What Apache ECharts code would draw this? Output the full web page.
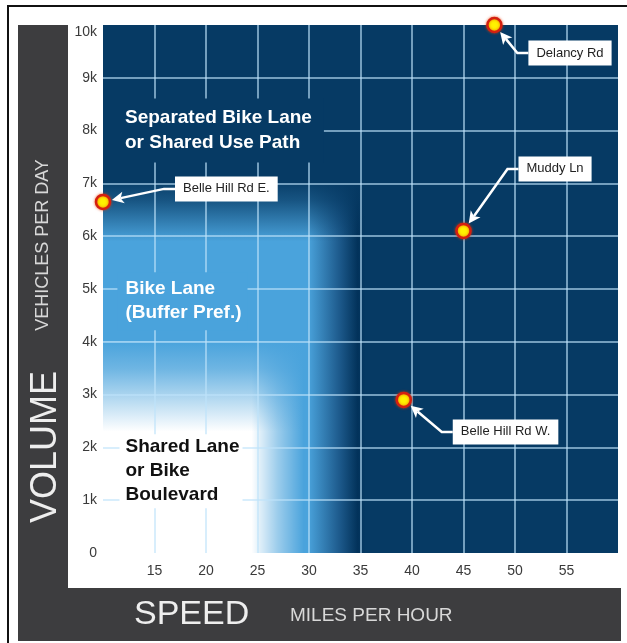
<!DOCTYPE html>
<html>
<head>
<meta charset="utf-8">
<title>Bikeway selection by speed and volume</title>
<script src="https://cdn.jsdelivr.net/npm/echarts@6/dist/echarts.min.js"></script>
<style>
  html, body { margin: 0; padding: 0; background: #fff; }
  #chart { width: 627px; height: 643px; }
</style>
</head>
<body>
<div id="chart"></div>
<script>
// roads that were measured (speed in mph, vehicles per day)
var roadNames = ["Delancy Rd", "Muddy Ln", "Belle Hill Rd E.", "Belle Hill Rd W."];
var roadSpeeds = [48, 45, 10, 39.2];
var roadVolumes = [10000, 6100, 6650, 2900];

// facility zones, label text and where the label sits
var zoneLabels = ["Separated Bike Lane\nor Shared Use Path", "Bike Lane\n(Buffer Pref.)", "Shared Lane\nor Bike\nBoulevard"];
var zoneLabelSpeeds = [10, 11.4, 11.6];
var zoneLabelVolumes = [8000, 4770, 1550];

// tick labels
var speedTickLabels = ["10", "15", "20", "25", "30", "35", "40", "45", "50", "55", "60"];
var volumeTickLabels = ["0", "1k", "2k", "3k", "4k", "5k", "6k", "7k", "8k", "9k", "10k"];

var FONT = '"Liberation Sans", Arial, Helvetica, sans-serif';
var NAVY = "#063a64";
var BLUE = "#4aa3dc";

// box left-middle offset from the point, in px
var calloutOffset = [[34, 28], [55, -62], [72, -13], [49, 32]];

var zoneStyles = [
  { color: "#ffffff", bg: NAVY, lineHeight: 25, padding: [7, 12, 7, 22] },
  { color: "#ffffff", bg: BLUE, lineHeight: 24, padding: [5, 6, 5, 8] },
  { color: "#111111", bg: "#ffffff", lineHeight: 24, padding: [1, 3, 1, 6] }
];

function grad(vertical, stops) {
  return {
    type: "linear", x: 0, y: 0, x2: vertical ? 0 : 1, y2: vertical ? 1 : 0,
    colorStops: stops.map(function (s) { return { offset: s[0], color: s[1] }; })
  };
}

var myChart = echarts.init(document.getElementById("chart"), null, { renderer: "canvas" });

function renderCallout(params, api) {
  var i = params.dataIndex;
  var p = api.coord([api.value(0), api.value(1)]);
  var off = calloutOffset[i];
  var bx = p[0] + off[0], by = p[1] + off[1];
  var ex = bx - 11, ey = by;
  var dx = p[0] - ex, dy = p[1] - ey;
  var len = Math.sqrt(dx * dx + dy * dy);
  var ux = dx / len, uy = dy / len;
  var tipX = p[0] - ux * 9, tipY = p[1] - uy * 9;
  var headLen = 12, headW = 6;
  var baseX = tipX - ux * headLen, baseY = tipY - uy * headLen;
  var nx = -uy, ny = ux;
  return {
    type: "group",
    children: [
      {
        type: "polyline",
        shape: { points: [[bx, by], [ex, ey], [baseX + ux * 3, baseY + uy * 3]] },
        style: { stroke: "#ffffff", lineWidth: 2.5, fill: "none" }
      },
      {
        type: "polygon",
        shape: { points: [[tipX, tipY], [baseX + nx * headW, baseY + ny * headW], [baseX + ux * 3, baseY + uy * 3], [baseX - nx * headW, baseY - ny * headW]] },
        style: { fill: "#ffffff" }
      },
      {
        type: "text",
        x: bx, y: by,
        style: {
          text: roadNames[i], fill: "#222222", font: "13px " + FONT,
          align: "left", verticalAlign: "middle", lineHeight: 15,
          backgroundColor: "#ffffff", padding: [5, 8, 5, 8]
        }
      }
    ]
  };
}

var option = {
  animation: false,
  grid: {
    left: 103, right: 9, top: 25, bottom: 90,
    show: true, backgroundColor: NAVY, borderWidth: 0,
    outerBoundsMode: "none"
  },
  xAxis: {
    type: "value", min: 10, max: 60, interval: 5, z: 2,
    axisLine: { show: false }, axisTick: { show: false },
    axisLabel: {
      showMinLabel: false, showMaxLabel: false, margin: 11,
      color: "#3a3a3a", fontSize: 14, fontFamily: FONT,
      formatter: function (v) { return speedTickLabels[Math.round((v - 10) / 5)]; }
    },
    splitLine: {
      show: true, showMinLine: false, showMaxLine: false,
      lineStyle: { color: "rgba(190,228,250,0.8)", width: 1.5 }
    }
  },
  yAxis: {
    type: "value", min: 0, max: 10000, interval: 1000, z: 2,
    axisLine: { show: false }, axisTick: { show: false },
    axisLabel: {
      margin: 6, color: "#3a3a3a", fontSize: 14, fontFamily: FONT,
      verticalAlignMaxLabel: "top",
      formatter: function (v) { return volumeTickLabels[Math.round(v / 1000)]; }
    },
    splitLine: {
      show: true, showMinLine: false, showMaxLine: false,
      lineStyle: { color: "rgba(190,228,250,0.8)", width: 1.5 }
    }
  },
  graphic: [
    { type: "rect", z: 0, shape: { x: 7, y: 5, width: 620, height: 2 }, style: { fill: "#111" } },
    { type: "rect", z: 0, shape: { x: 7, y: 5, width: 2, height: 638 }, style: { fill: "#111" } },
    { type: "rect", z: 0, shape: { x: 18, y: 25, width: 50, height: 616 }, style: { fill: "#3d3d3f" } },
    { type: "rect", z: 0, shape: { x: 18, y: 588, width: 603, height: 53 }, style: { fill: "#3d3d3f" } },
    {
      type: "text", z: 1, x: 46, y: 447, rotation: Math.PI / 2,
      style: { text: "VOLUME", font: "36px " + FONT, fill: "#eeeeee", align: "center", verticalAlign: "middle" }
    },
    {
      type: "text", z: 1, x: 43, y: 245, rotation: Math.PI / 2,
      style: { text: "VEHICLES PER DAY", font: "18px " + FONT, fill: "#d8d8d8", align: "center", verticalAlign: "middle" }
    },
    {
      type: "text", z: 1, x: 134, y: 615,
      style: { text: "SPEED", font: "34px " + FONT, fill: "#eeeeee", align: "left", verticalAlign: "middle" }
    },
    {
      type: "text", z: 1, x: 290, y: 616,
      style: { text: "MILES PER HOUR", font: "19px " + FONT, fill: "#d8d8d8", align: "left", verticalAlign: "middle" }
    }
  ],
  series: [
    {
      name: "zones",
      type: "scatter",
      z: 3,
      silent: true,
      clip: false,
      symbolSize: 0,
      itemStyle: { color: "transparent", opacity: 1 },
      data: zoneLabels.map(function (t, i) {
        var s = zoneStyles[i];
        return {
          value: [zoneLabelSpeeds[i], zoneLabelVolumes[i]],
          label: {
            show: true, formatter: t, position: "right", distance: 0,
            color: s.color, fontSize: 19, fontWeight: "bold", fontFamily: FONT,
            lineHeight: s.lineHeight, backgroundColor: s.bg, padding: s.padding,
            align: "left", verticalAlign: "middle"
          }
        };
      }),
      markArea: {
        silent: true,
        z: 1,
        data: [
          [{ xAxis: 10, yAxis: 0, itemStyle: { opacity: 1, color: grad(false, [[0, BLUE], [0.78, BLUE], [0.9, "#1d5a8c"], [0.97, "#02325a"], [1, NAVY]]) } },
           { xAxis: 35.5, yAxis: 7000 }],
          [{ xAxis: 10, yAxis: 5900, itemStyle: { opacity: 1, color: grad(true, [[0, "rgba(6,58,100,1)"], [0.35, "rgba(6,58,100,0.75)"], [1, "rgba(6,58,100,0)"]]) } },
           { xAxis: 36, yAxis: 7100 }],
          [{ xAxis: 10, yAxis: 0, itemStyle: { opacity: 1, color: grad(false, [[0, "#ffffff"], [0.74, "#ffffff"], [0.87, "rgba(255,255,255,0.45)"], [1, "rgba(255,255,255,0)"]]) } },
           { xAxis: 29.5, yAxis: 4000 }],
          [{ xAxis: 10, yAxis: 2300, itemStyle: { opacity: 1, color: grad(true, [[0, "rgba(74,163,220,1)"], [0.3, "rgba(74,163,220,0.8)"], [1, "rgba(74,163,220,0)"]]) } },
           { xAxis: 29.5, yAxis: 4000 }]
        ]
      }
    },
    {
      name: "callouts",
      type: "custom",
      z: 4,
      silent: true,
      renderItem: renderCallout,
      data: roadSpeeds.map(function (s, i) { return [s, roadVolumes[i]]; })
    },
    {
      name: "roads",
      type: "scatter",
      z: 5,
      clip: false,
      symbolSize: 14,
      itemStyle: {
        color: "#fff200", borderColor: "#d42010", borderWidth: 2.5, opacity: 1,
        shadowBlur: 3, shadowColor: "rgba(230,60,0,0.7)"
      },
      data: roadSpeeds.map(function (s, i) { return [s, roadVolumes[i]]; })
    }
  ]
};

myChart.setOption(option);
</script>
</body>
</html>
